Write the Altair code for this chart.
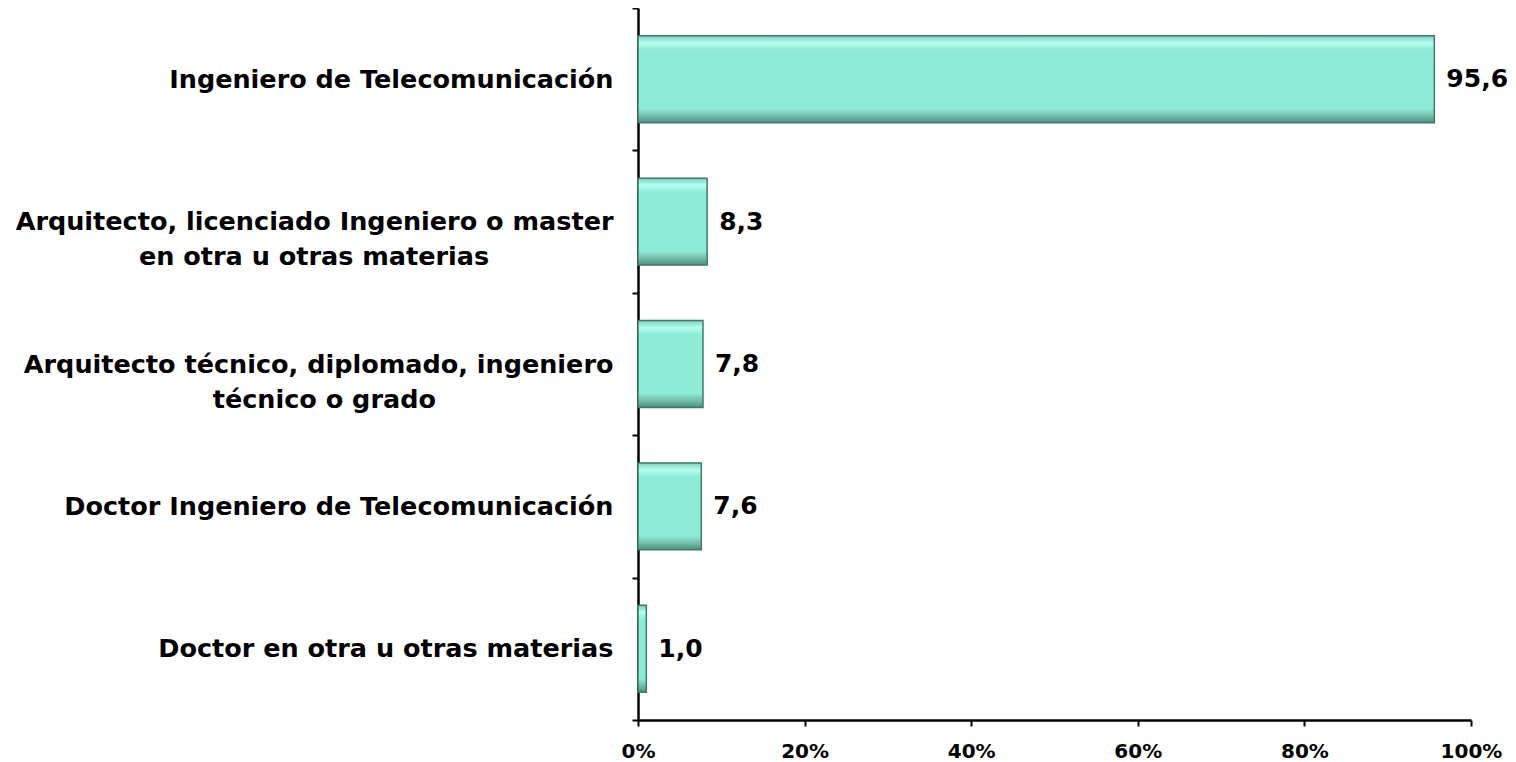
import altair as alt
import pandas as pd

# --- data ---
category_lines = [
    ["Ingeniero de Telecomunicación"],
    ["Arquitecto, licenciado Ingeniero o master", "en otra u otras materias"],
    ["Arquitecto técnico, diplomado, ingeniero", "técnico o grado"],
    ["Doctor Ingeniero de Telecomunicación"],
    ["Doctor en otra u otras materias"],
]
values = [95.6, 8.3, 7.8, 7.6, 1.0]
value_labels = ["95,6", "8,3", "7,8", "7,6", "1,0"]

# layout only: trailing no-break spaces (closed by a zero-width space so they
# are not trimmed) so that the 2nd lines sit centred under the 1st ones
second_line_pad = [0, 14, 20, 0, 0]

categories = []
for lines, pad in zip(category_lines, second_line_pad):
    if len(lines) > 1:
        lines = [lines[0], lines[1] + "\u00a0" * pad + "\u200b"]
    categories.append("|".join(lines))

df = pd.DataFrame({"cat": categories, "val": values, "lab": value_labels})

FONT = "DejaVu Sans"

y_enc = alt.Y(
    "cat:N",
    sort=categories,
    title=None,
    scale=alt.Scale(paddingInner=0, paddingOuter=0),
    axis=alt.Axis(
        labelExpr="split(datum.label, '|')",
        labelFont=FONT,
        labelFontWeight="bold",
        labelFontSize=25.5,
        labelLineHeight=35,
        labelColor="black",
        labelPadding=19,
        labelAlign="right",
        labelLimit=700,
        tickBand="extent",
        tickColor="black",
        tickSize=6,
        tickWidth=2,
        domainColor="black",
        domainWidth=2.5,
        grid=False,
    ),
)

x_enc = alt.X(
    "val:Q",
    title=None,
    scale=alt.Scale(domain=[0, 100], nice=False),
    axis=alt.Axis(
        values=[0, 20, 40, 60, 80, 100],
        labelExpr="datum.value + '%'",
        labelFont=FONT,
        labelFontWeight="bold",
        labelFontSize=20,
        labelColor="black",
        labelPadding=15,
        labelFlush=False,
        tickColor="black",
        tickSize=6,
        tickWidth=2,
        domainColor="black",
        domainWidth=2.5,
        grid=False,
    ),
)

grad = alt.Gradient(
    gradient="linear",
    x1=0, y1=0, x2=0, y2=1,
    stops=[
        alt.GradientStop(color="#7FCDBA", offset=0),
        alt.GradientStop(color="#B4FFF0", offset=0.08),
        alt.GradientStop(color="#8EEBD6", offset=0.16),
        alt.GradientStop(color="#8EEBD6", offset=0.84),
        alt.GradientStop(color="#6FB8A6", offset=0.93),
        alt.GradientStop(color="#4E8F80", offset=1),
    ],
)

bars = alt.Chart(df).mark_bar(
    color=grad, stroke="#3E7A6C", strokeWidth=1.5, height={"band": 0.61}
).encode(y=y_enc, x=x_enc)

text = alt.Chart(df).mark_text(
    align="left", baseline="middle", dx=12,
    font=FONT, fontWeight="bold", fontSize=25, color="black"
).encode(y=alt.Y("cat:N", sort=categories), x="val:Q", text="lab:N")

chart = (bars + text).properties(
    width=833, height=712,
    autosize=alt.AutoSizeParams(type="none"),
    padding={"left": 630, "top": 0, "right": 37, "bottom": 42},
).configure(background="white").configure_view(stroke=None)

chart.save("out.html", embed_options={"renderer": "svg", "actions": False})
